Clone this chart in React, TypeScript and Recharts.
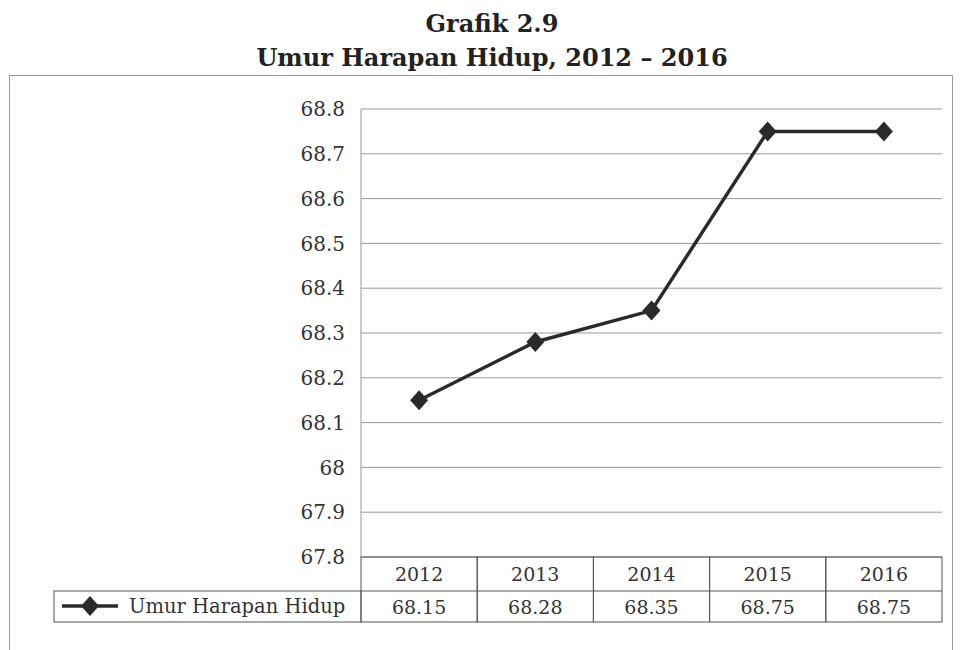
import { CartesianGrid, Line, LineChart, XAxis, YAxis } from 'recharts'

const years = ['2012', '2013', '2014', '2015', '2016']
const umurHarapanHidup = [68.15, 68.28, 68.35, 68.75, 68.75]
const yTicks = [67.8, 67.9, 68, 68.1, 68.2, 68.3, 68.4, 68.5, 68.6, 68.7, 68.8]
const seriesName = 'Umur Harapan Hidup'

const W = 960
const H = 650
const margin = { top: 109, right: 18, bottom: 28, left: 0 }
const yAxisW = 361
const xAxisH = 65
const plotLeft = margin.left + yAxisW
const plotW = W - plotLeft - margin.right
const plotBottom = H - margin.bottom - xAxisH
const rowH = 34
const font = '"DejaVu Serif", serif'

function Diamond({ cx, cy }: any) {
  if (cx == null || cy == null) return null
  return <polygon points={`${cx},${cy - 10} ${cx + 9},${cy} ${cx},${cy + 10} ${cx - 9},${cy}`} fill="#2a2a2a" />
}

function TableTick({ x, payload, index }: any) {
  const colW = plotW / years.length
  const left = x - colW / 2
  const value = umurHarapanHidup[index]
  const legendLeft = 54
  return (
    <g>
      <rect x={left} y={plotBottom} width={colW} height={xAxisH} fill="none" stroke="#555" />
      <line x1={left} x2={left + colW} y1={plotBottom + rowH} y2={plotBottom + rowH} stroke="#555" />
      <text x={x} y={plotBottom + rowH / 2 + 7} textAnchor="middle" fontFamily={font} fontSize={19} fill="#333">
        {payload.value}
      </text>
      <text x={x} y={plotBottom + rowH + (xAxisH - rowH) / 2 + 7} textAnchor="middle" fontFamily={font} fontSize={19} fill="#333">
        {value}
      </text>
      {index === 0 && (
        <g>
          <rect x={legendLeft} y={plotBottom + rowH} width={left - legendLeft} height={xAxisH - rowH} fill="none" stroke="#555" />
          <line x1={62} x2={118} y1={plotBottom + rowH + 15} y2={plotBottom + rowH + 15} stroke="#2a2a2a" strokeWidth={3.5} />
          <Diamond cx={90} cy={plotBottom + rowH + 15} />
          <text x={129} y={plotBottom + rowH + 22} fontFamily={font} fontSize={19.5} fill="#333">
            {seriesName}
          </text>
        </g>
      )}
    </g>
  )
}

export default function App() {
  const data = years.map((year, i) => ({ year, value: umurHarapanHidup[i] }))

  return (
    <div style={{ position: 'absolute', left: 0, top: 0, width: W, height: H, background: '#fff' }}>
      <div style={{ position: 'absolute', left: 0, width: 984, top: 7, textAlign: 'center', fontFamily: font, fontWeight: 'bold', fontSize: 24, lineHeight: '34px', color: '#222' }}>
        <div>Grafik 2.9</div>
        <div>Umur Harapan Hidup, 2012 – 2016</div>
      </div>
      <div style={{ position: 'absolute', left: 9, top: 75, width: 942, height: 600, border: '1px solid #999' }} />
      <div style={{ position: 'absolute', left: 0, top: 0 }}>
        <LineChart width={W} height={H} data={data} margin={margin}>
          <CartesianGrid vertical={false} stroke="#999" />
          <XAxis
            dataKey="year"
            scale="band"
            height={xAxisH}
            axisLine={false}
            tickLine={false}
            tickSize={0}
            interval={0}
            tick={<TableTick />}
          />
          <YAxis
            width={yAxisW}
            domain={[67.8, 68.8]}
            ticks={yTicks}
            interval={0}
            tickLine={false}
            tickSize={0}
            tickMargin={16}
            axisLine={{ stroke: '#999' }}
            tick={{ fontFamily: font, fontSize: 20, fill: '#333' }}
          />
          <Line
            dataKey="value"
            name={seriesName}
            stroke="#2a2a2a"
            strokeWidth={3.5}
            dot={<Diamond />}
            activeDot={false}
            isAnimationActive={false}
          />
        </LineChart>
      </div>
    </div>
  )
}
